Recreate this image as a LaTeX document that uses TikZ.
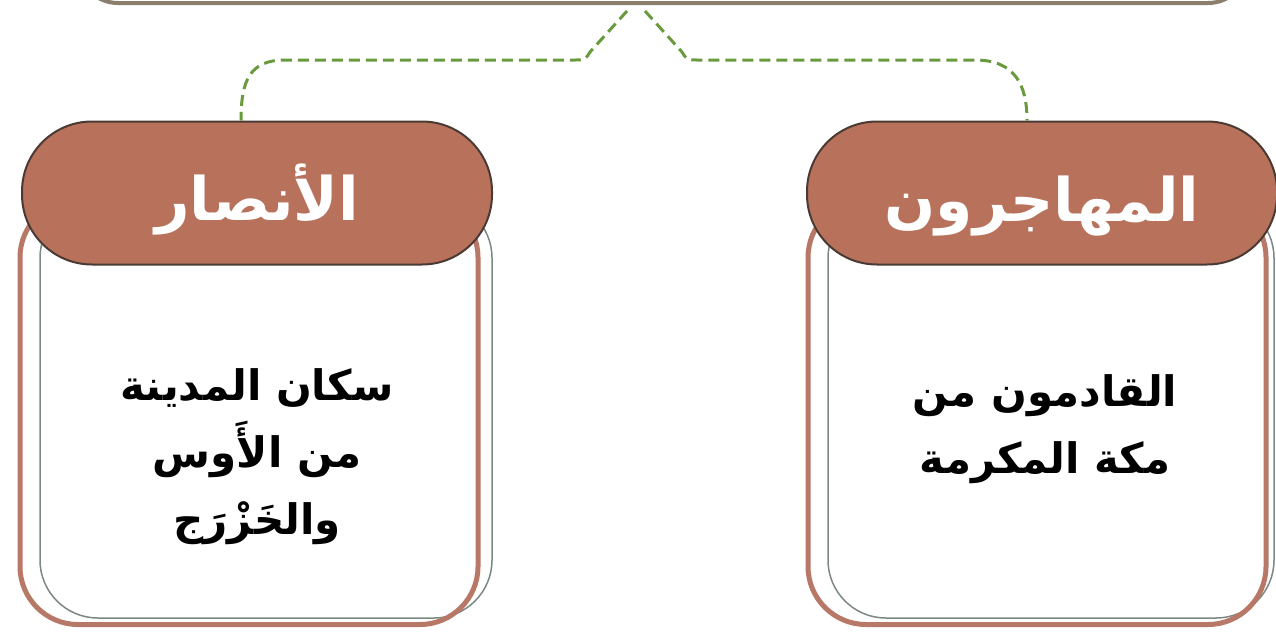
\documentclass[tikz,border=0pt]{standalone}
\usepackage{fontspec}
\newfontfamily\arabicfont[Script=Arabic]{DejaVu Sans}
\TeXXeTstate=1
\usetikzlibrary{calc}
\definecolor{pillfill}{HTML}{B8725C}
\definecolor{pilledge}{HTML}{4A3A33}
\definecolor{boxbrown}{HTML}{B87868}
\definecolor{boxgray}{HTML}{7C8882}
\definecolor{dashgreen}{HTML}{6A9A40}
\definecolor{topedge}{HTML}{8C7E6C}
\tikzset{
  topbox/.style={draw=topedge, line width=4pt, rounded corners=40pt, minimum width=1170pt, minimum height=106pt, inner sep=0pt},
  pill/.style={draw=pilledge, fill=pillfill, line width=2pt, rounded corners=70pt, minimum width=470pt, minimum height=143pt, inner sep=0pt},
  pilltext/.style={text=white, font=\arabicfont\bfseries\fontsize{60}{66}\selectfont, inner sep=0pt},
  brownbox/.style={draw=boxbrown, line width=5pt, rounded corners=58pt, inner sep=0pt},
  graybox/.style={draw=boxgray, line width=1.5pt, rounded corners=58pt, inner sep=0pt},
  bodytext/.style={align=center, text=black, font=\arabicfont\bfseries\fontsize{42}{67}\selectfont},
  conn/.style={draw=dashgreen, line width=3pt, dash pattern=on 11pt off 6pt}
}
\begin{document}
\begin{tikzpicture}[x=1pt, y=-1pt]
\useasboundingbox (0,0) rectangle (1276,632);
% top box (cut off)
\node[topbox] (top) at (663,-50) {};
% boxes
\node[graybox, minimum width=452pt, minimum height=418pt] (grayL) at (266,409) {};
\node[brownbox, minimum width=458pt, minimum height=425pt] (brownL) at (249,412) {};
\node[graybox, minimum width=446pt, minimum height=418pt] (grayR) at (1051,409) {};
\node[brownbox, minimum width=458pt, minimum height=425pt] (brownR) at (1037,412) {};
% pills
\node[pill] (pillL) at (257,193) {};
\node[pill] (pillR) at (1042,193) {};
\node[pilltext] (hL) at ([yshift=-6pt]pillL.center) {\beginR الأنصار\endR};
\node[pilltext] (hR) at ([yshift=-13pt]pillR.center) {\beginR المهاجرون\endR};
% body texts
\node[bodytext] (txtL) at (257,457) {\beginR سكان المدينة\endR\\ \beginR من الأَوس\endR\\ \beginR والخَزْرَج\endR};
\node[bodytext] (txtR) at (1045,429) {\beginR القادمون من\endR\\ \beginR مكة المكرمة\endR};
% connectors
\draw[conn] ($(top.south)+(-36,6)$) -- (590,52) .. controls (585,60) .. (575,60) -- (285,60) .. controls (250,60) and (241,80) .. ([xshift=-16pt]pillL.north);
\draw[conn] ($(top.south)+(-18,6)$) -- (682,52) .. controls (687,60) .. (697,60) -- (975,60) .. controls (1015,60) and (1027,85) .. ([xshift=-15pt]pillR.north);
\end{tikzpicture}
\end{document}
